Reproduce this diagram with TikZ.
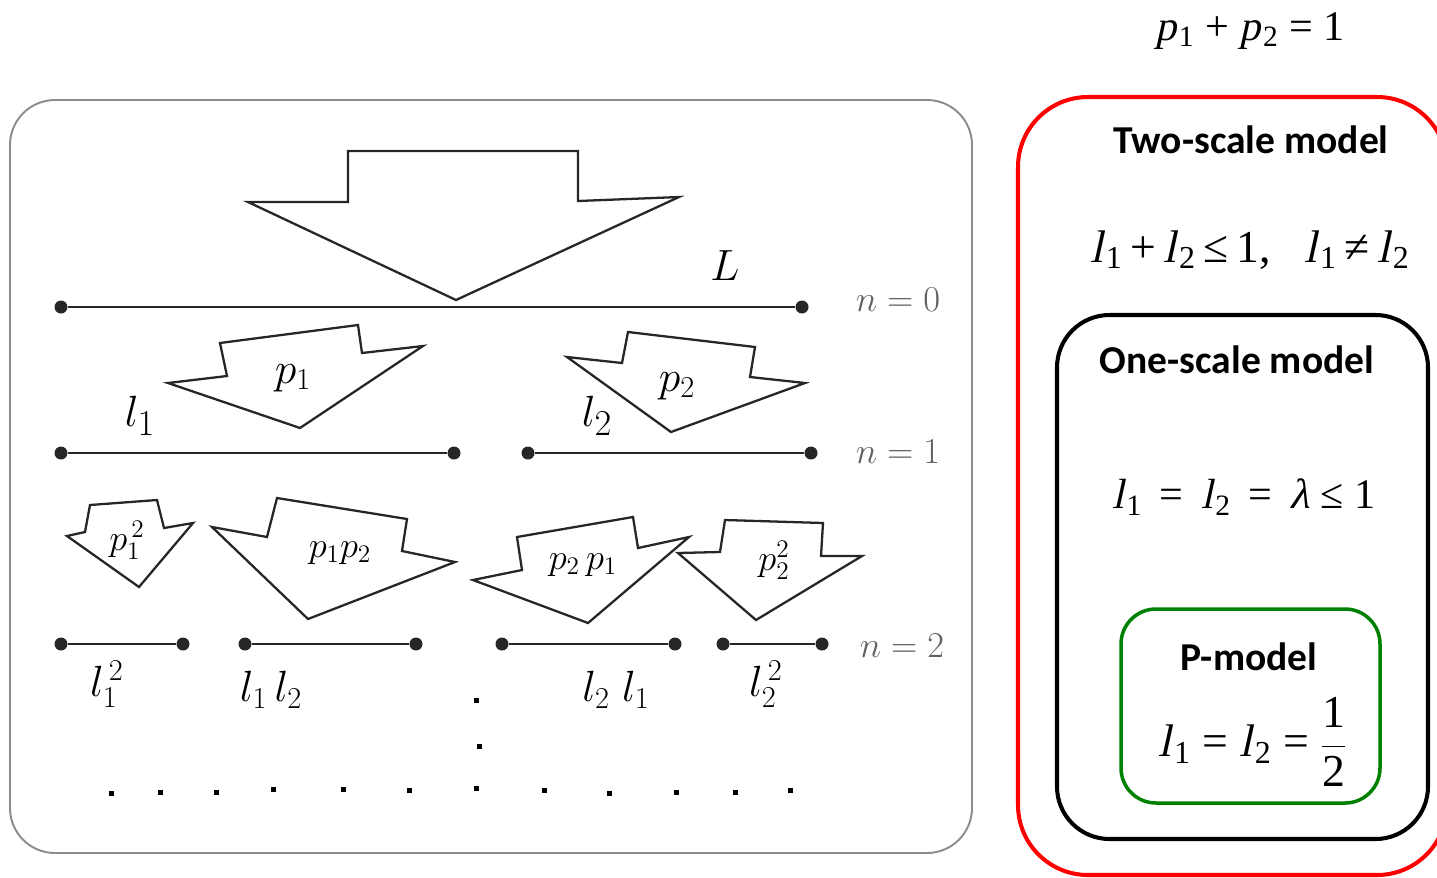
\documentclass[tikz,border=0pt]{standalone}
\usepackage{fontspec}
\setsansfont{Carlito}
\newfontfamily\tms{Liberation Serif}
\newfontfamily\tmsit{Liberation Serif}[FakeSlant=0.22]
\newcommand\tv[2]{{\tmsit #1}\kern0.06em\textsubscript{#2}}
\tikzset{
  seg/.style={line width=1.6pt, draw=black!85},
  endpt/.style={circle, fill=black!85, inner sep=0pt, minimum size=0.26cm},
  flow/.style={draw=black!85, line width=1.3pt, line join=miter, fill=white},
  lab/.style={inner sep=0pt},
  big/.style={lab, font=\fontsize{28}{32}\selectfont},
  mid/.style={lab, font=\fontsize{26}{30}\selectfont},
  lvtwo/.style={lab, font=\fontsize{24}{28}\selectfont},
  small/.style={lab, font=\fontsize{21}{24}\selectfont},
  lvl/.style={lab, text=black!62, font=\fontsize{21}{24}\selectfont},
  sq/.style={rectangle, fill=black, inner sep=0pt, minimum size=0.1cm},
  title/.style={lab, font=\sffamily\bfseries\fontsize{22.5}{26}\selectfont},
  tmath/.style={lab, font=\tms\fontsize{#1}{#1}\selectfont},
}
\begin{document}
\begin{tikzpicture}[x=0.02cm, y=-0.02cm]
\useasboundingbox (0,0) rectangle (1437,877);

% left frame
\draw[black!45, line width=1.1pt, rounded corners=0.9cm] (10,100) rectangle (972,853);

% big arrow
\draw[flow] (348,151) -- (578,151) -- (578,201) -- (679,197) -- (456,300) -- (248,202) -- (348,202) -- cycle;
% level 1 arrows
\draw[flow] (220,343) -- (358,325) -- (362,353) -- (423,346) -- (300,428) -- (168,383) -- (227,376) -- cycle;
\draw[flow] (567,357) -- (622,363) -- (628,332) -- (755,347) -- (750,377) -- (805,383) -- (671,432) -- cycle;
% level 2 arrows
\draw[flow] (90,505) -- (157,500) -- (164,528) -- (193,523) -- (139,587) -- (67,536) -- (85,532) -- cycle;
\draw[flow] (212,527) -- (267,537) -- (277,498) -- (407,519) -- (402,551) -- (455,562) -- (308,619) -- cycle;
\draw[flow] (473,580) -- (522,570) -- (517,537) -- (633,517) -- (638,548) -- (689,537) -- (588,623) -- cycle;
\draw[flow] (678,553) -- (720,552) -- (725,520) -- (823,523) -- (821,556) -- (862,556) -- (756,620) -- cycle;

% segments
\node[endpt] (a0) at (61,307) {};
\node[endpt] (b0) at (802,307) {};
\draw[seg] (a0) -- (b0);
\node[endpt] (a1) at (61,453) {};
\node[endpt] (b1) at (454,453) {};
\draw[seg] (a1) -- (b1);
\node[endpt] (c1) at (528,453) {};
\node[endpt] (d1) at (811,453) {};
\draw[seg] (c1) -- (d1);
\node[endpt] (a2) at (61,644) {};
\node[endpt] (b2) at (183,644) {};
\draw[seg] (a2) -- (b2);
\node[endpt] (c2) at (245,644) {};
\node[endpt] (d2) at (416,644) {};
\draw[seg] (c2) -- (d2);
\node[endpt] (e2) at (502,644) {};
\node[endpt] (f2) at (675,644) {};
\draw[seg] (e2) -- (f2);
\node[endpt] (g2) at (723,644) {};
\node[endpt] (h2) at (822,644) {};
\draw[seg] (g2) -- (h2);

% labels
\node[lvtwo] (tL) at (725,266) {$L$};
\node[mid] (tp1) at (293,378) {$p_1$};
\node[mid] (tp2) at (677,386) {$p_2$};
\node[big] (tl1) at (140,416) {$l_1$};
\node[big] (tl2) at (597,416) {$l_2$};
\node[lvl] (n0) at (898,300) {$n=0$};
\node[lvl] (n1) at (898,452) {$n=1$};
\node[lvl] (n2) at (902,646) {$n=2$};
\node[small] (q11) at (127,540) {$p_1^{\,2}$};
\node[small] (q12) at (340,553) {$p_1p_2$};
\node[small] (q21) at (583,565) {$p_2\,p_1$};
\node[small] (q22) at (774,560) {$p_2^2$};
\node[lvtwo] (m11) at (107,684) {$l_1^{\,2}$};
\node[lvtwo] (m12) at (271,690) {$l_1\,l_2$};
\node[lvtwo] (m21) at (616,690) {$l_2\;l_1$};
\node[lvtwo] (m22) at (766,684) {$l_2^{\,2}$};

% continuation dots
\node[sq] (v1) at (476,700) {};
\node[sq] (v2) at (479,746) {};
\foreach \x/\y [count=\i] in {111/793,160/792,216/792,273/789,343/789,409/790,476/788,544/790,609/793,676/792,735/792,790/790}
  \node[sq] (h\i) at (\x,\y) {};

% right side
\node[tmath=24] (eqp) at (1250,31) {\tv{p}{1} + \tv{p}{2} = 1};
\draw[red, line width=2.3pt, rounded corners=1.4cm] (1018,97) rectangle (1447,875);
\node[title] (two) at (1251,140) {Two-scale model};
\node[tmath=26] (eqtwo) at (1250,250) {\tv{l}{1}\,+\,\tv{l}{2}\,≤\,1,\enspace\ \tv{l}{1}\,≠\,\tv{l}{2}};
\draw[black, line width=2.3pt, rounded corners=1.05cm] (1057,315) rectangle (1428,839);
\node[title] (one) at (1237,360) {One-scale model};
\node[tmath=24] (eqone) at (1244,497) {\tv{l}{1} \,=\, \tv{l}{2} \,=\, {\tmsit λ} ≤ 1};
\draw[green!50!black, line width=2pt, rounded corners=0.7cm] (1121,609) rectangle (1380,803);
\node[title] (pm) at (1249,657) {P-model};
\node[tmath=26] (eqp2) at (1253,742) {\tv{l}{1} = \tv{l}{2} = $\displaystyle\frac{\mbox{\tms 1}}{\mbox{\tms 2}}$};
\end{tikzpicture}
\end{document}
